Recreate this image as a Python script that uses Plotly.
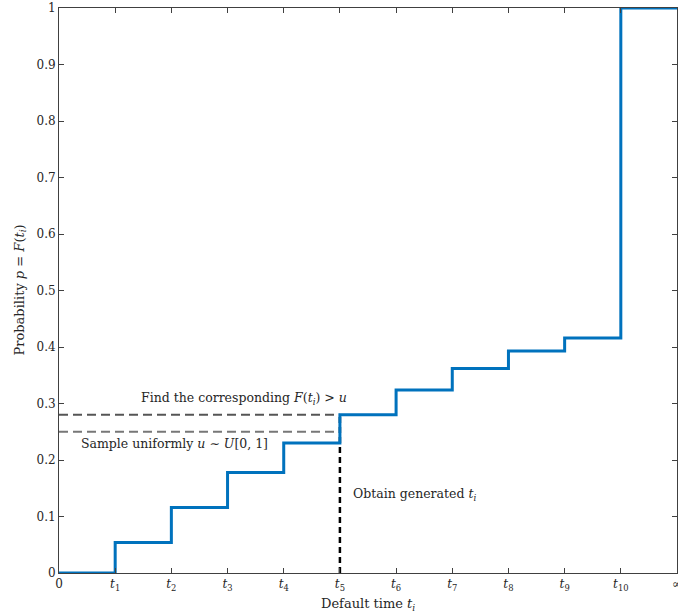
import plotly.graph_objects as go

# Data
x_index = [0, 1, 2, 3, 4, 5, 6, 7, 8, 9, 10, 11]
x_ticklabels = ["0", "<i>t</i><sub>1</sub>", "<i>t</i><sub>2</sub>", "<i>t</i><sub>3</sub>",
                "<i>t</i><sub>4</sub>", "<i>t</i><sub>5</sub>", "<i>t</i><sub>6</sub>",
                "<i>t</i><sub>7</sub>", "<i>t</i><sub>8</sub>", "<i>t</i><sub>9</sub>",
                "<i>t</i><sub>10</sub>", "∞"]
cdf_values = [0, 0.054, 0.116, 0.178, 0.230, 0.280, 0.324, 0.362, 0.393, 0.416, 1.0, 1.0]
u_sample = 0.25
chosen_index = 5
y_tickvals = [0, 0.1, 0.2, 0.3, 0.4, 0.5, 0.6, 0.7, 0.8, 0.9, 1]
y_ticklabels = ["0", "0.1", "0.2", "0.3", "0.4", "0.5", "0.6", "0.7", "0.8", "0.9", "1"]

FONT = "DejaVu Serif"
AXC = "#404040"
TXT = "#262626"

fig = go.Figure()

# horizontal dashed lines
fig.add_trace(go.Scatter(x=[x_index[0], x_index[chosen_index]],
                         y=[cdf_values[chosen_index], cdf_values[chosen_index]],
                         mode="lines", line=dict(color="#555555", width=2, dash="9px,5px"),
                         hoverinfo="skip", showlegend=False))
fig.add_trace(go.Scatter(x=[x_index[0], x_index[chosen_index]],
                         y=[u_sample, u_sample],
                         mode="lines", line=dict(color="#777777", width=2, dash="9px,5px"),
                         hoverinfo="skip", showlegend=False))
# vertical dashed line
fig.add_trace(go.Scatter(x=[x_index[chosen_index], x_index[chosen_index]],
                         y=[0, cdf_values[chosen_index]],
                         mode="lines", line=dict(color="black", width=2.5, dash="6px,4px"),
                         hoverinfo="skip", showlegend=False))
# step CDF
fig.add_trace(go.Scatter(x=x_index, y=cdf_values, mode="lines", line_shape="hv",
                         line=dict(color="#0072BD", width=3), showlegend=False))

annot_font = dict(family=FONT, size=12.5, color=TXT)
fig.add_annotation(x=3.3, y=0.309, xref="x", yref="y", showarrow=False,
                   text="Find the corresponding <i>F</i>(<i>t<sub>i</sub></i>) > <i>u</i>",
                   font=annot_font)
fig.add_annotation(x=2.06, y=0.229, xref="x", yref="y", showarrow=False,
                   text="Sample uniformly <i>u</i> ∼ <i>U</i>[0, 1]", font=annot_font)
fig.add_annotation(x=5.2, y=0.139, xref="x", yref="y", showarrow=False, xanchor="left",
                   text="Obtain generated <i>t<sub>i</sub></i>", font=annot_font)
# axis titles
title_font = dict(family=FONT, size=13, color=TXT)
fig.add_annotation(x=0.5, y=0, xref="paper", yref="paper", yshift=-31, showarrow=False,
                   yanchor="middle", text="Default time <i>t<sub>i</sub></i>", font=title_font)
fig.add_annotation(x=0, y=0.5, xref="paper", yref="paper", xshift=-39, showarrow=False,
                   xanchor="center", yanchor="middle", textangle=-90,
                   text="Probability <i>p</i> = <i>F</i>(<i>t<sub>i</sub></i>)", font=title_font)

tick_font = dict(family=FONT, size=12, color=TXT)
fig.update_xaxes(range=[0, 11], tickmode="array", tickvals=x_index, ticktext=x_ticklabels,
                 ticks="inside", ticklen=5, tickcolor=AXC, showgrid=False, zeroline=False,
                 showline=True, linecolor=AXC, linewidth=1, mirror="ticks",
                 tickfont=tick_font, automargin=False, ticklabeloverflow="allow",
                 ticklabelstandoff=0)
fig.update_yaxes(range=[0, 1], tickmode="array", tickvals=y_tickvals, ticktext=y_ticklabels,
                 ticks="inside", ticklen=5, tickcolor=AXC, showgrid=False, zeroline=False,
                 showline=True, linecolor=AXC, linewidth=1, mirror="ticks",
                 tickfont=tick_font, automargin=False, ticklabeloverflow="allow")

fig.update_layout(width=678, height=616, margin=dict(l=59, r=1, t=8, b=43, autoexpand=False),
                  plot_bgcolor="white", paper_bgcolor="white")

fig.write_html("out.html", config={"displayModeBar": False},
               post_script="document.body.style.margin='0';document.body.style.overflow='hidden';")
